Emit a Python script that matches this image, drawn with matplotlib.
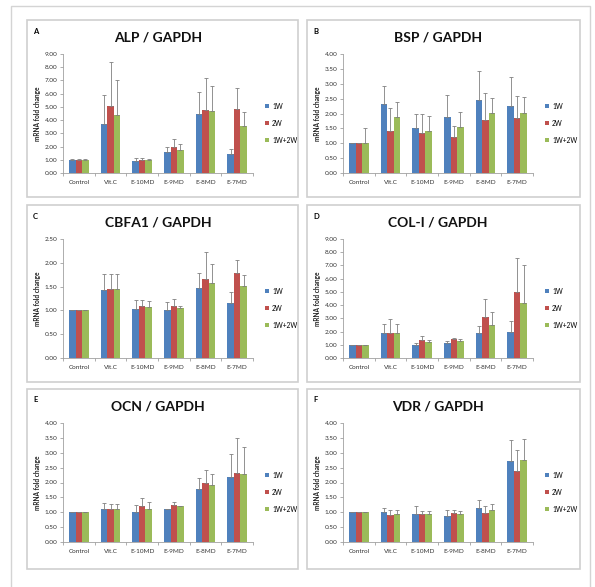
import numpy as np
import matplotlib.pyplot as plt
from matplotlib.patches import Rectangle

plt.rcParams['font.family'] = ['Lato', 'DejaVu Sans']

W, H = 595, 587

categories = ['Control', 'Vit.C', 'E-10MD', 'E-9MD', 'E-8MD', 'E-7MD']
series_names = ['1W', '2W', '1W+2W']
colors = ['#4F81BD', '#C0504D', '#9BBB59']

# ALP / GAPDH
alp_1w = [1.0, 3.7, 0.9, 1.57, 4.45, 1.45]
alp_2w = [1.0, 5.08, 0.95, 1.95, 4.75, 4.82]
alp_12w = [1.0, 4.37, 0.95, 1.73, 4.7, 3.55]
alp_err_1w = [0.03, 2.2, 0.2, 0.43, 1.7, 0.4]
alp_err_2w = [0.03, 3.35, 0.2, 0.6, 2.45, 1.63]
alp_err_12w = [0.03, 2.68, 0.1, 0.47, 1.9, 1.05]

# BSP / GAPDH
bsp_1w = [1.0, 2.33, 1.51, 1.88, 2.47, 2.24]
bsp_2w = [1.0, 1.40, 1.33, 1.22, 1.78, 1.86]
bsp_12w = [1.0, 1.88, 1.40, 1.56, 2.01, 2.02]
bsp_err_1w = [0.02, 0.6, 0.47, 0.74, 0.95, 1.0]
bsp_err_2w = [0.02, 0.78, 0.65, 0.36, 0.92, 0.74]
bsp_err_12w = [0.5, 0.5, 0.52, 0.49, 0.51, 0.53]

# CBFA1 / GAPDH
cbfa_1w = [1.0, 1.42, 1.03, 1.0, 1.48, 1.16]
cbfa_2w = [1.0, 1.44, 1.10, 1.10, 1.65, 1.78]
cbfa_12w = [1.0, 1.44, 1.08, 1.05, 1.57, 1.52]
cbfa_err_1w = [0.01, 0.35, 0.19, 0.17, 0.3, 0.22]
cbfa_err_2w = [0.01, 0.32, 0.12, 0.14, 0.57, 0.28]
cbfa_err_12w = [0.01, 0.32, 0.12, 0.05, 0.4, 0.23]

# COL-I / GAPDH
col_1w = [1.0, 1.9, 0.95, 1.15, 1.9, 1.95]
col_2w = [1.0, 1.9, 1.35, 1.4, 3.1, 5.0]
col_12w = [1.0, 1.9, 1.2, 1.3, 2.5, 4.15]
col_err_1w = [0.02, 0.65, 0.15, 0.1, 0.5, 0.85]
col_err_2w = [0.02, 1.05, 0.3, 0.15, 1.4, 2.6]
col_err_12w = [0.02, 0.65, 0.15, 0.15, 0.95, 2.9]

# OCN / GAPDH
ocn_1w = [1.0, 1.1, 1.0, 1.1, 1.78, 2.2]
ocn_2w = [1.0, 1.1, 1.2, 1.25, 2.0, 2.33]
ocn_12w = [1.0, 1.1, 1.1, 1.2, 1.9, 2.27]
ocn_err_1w = [0.01, 0.2, 0.25, 0.02, 0.37, 0.75]
ocn_err_2w = [0.01, 0.18, 0.27, 0.1, 0.42, 1.15]
ocn_err_12w = [0.01, 0.18, 0.23, 0.02, 0.38, 0.93]

# VDR / GAPDH
vdr_1w = [1.0, 1.0, 0.95, 0.87, 1.15, 2.72]
vdr_2w = [1.0, 0.92, 0.93, 0.98, 0.97, 2.37]
vdr_12w = [1.0, 0.95, 0.95, 0.93, 1.08, 2.75]
vdr_err_1w = [0.01, 0.15, 0.27, 0.21, 0.25, 0.7]
vdr_err_2w = [0.01, 0.15, 0.1, 0.1, 0.23, 0.71]
vdr_err_12w = [0.01, 0.13, 0.1, 0.1, 0.2, 0.7]

panels = [
    ('A', 'ALP / GAPDH', [alp_1w, alp_2w, alp_12w], [alp_err_1w, alp_err_2w, alp_err_12w], 9, 1.0),
    ('B', 'BSP / GAPDH', [bsp_1w, bsp_2w, bsp_12w], [bsp_err_1w, bsp_err_2w, bsp_err_12w], 4, 0.5),
    ('C', 'CBFA1 / GAPDH', [cbfa_1w, cbfa_2w, cbfa_12w], [cbfa_err_1w, cbfa_err_2w, cbfa_err_12w], 2.5, 0.5),
    ('D', 'COL-I / GAPDH', [col_1w, col_2w, col_12w], [col_err_1w, col_err_2w, col_err_12w], 9, 1.0),
    ('E', 'OCN / GAPDH', [ocn_1w, ocn_2w, ocn_12w], [ocn_err_1w, ocn_err_2w, ocn_err_12w], 4, 0.5),
    ('F', 'VDR / GAPDH', [vdr_1w, vdr_2w, vdr_12w], [vdr_err_1w, vdr_err_2w, vdr_err_12w], 4, 0.5),
]

# panel boxes in pixels (left, top, right, bottom)
boxes = [(27, 20, 298, 197), (307, 20, 580, 197),
         (27, 205, 298, 382), (307, 205, 580, 382),
         (27, 389, 298, 569), (307, 389, 580, 569)]

fig = plt.figure(figsize=(W / 100, H / 100), dpi=100)
fig.patch.set_facecolor('white')


def px_rect(l, t, r, b):
    return [l / W, 1 - b / H, (r - l) / W, (b - t) / H]


# outer frame
fig.add_artist(Rectangle((11 / W, -0.01), (590 - 11) / W, 1 - 6 / H + 0.01, transform=fig.transFigure,
                         fill=False, edgecolor='#d4d4d4', linewidth=1.0))

x = np.arange(len(categories))
bw = 0.21

for (letter, title, vals, errs, ymax, step), (l, t, r, b) in zip(panels, boxes):
    fig.add_artist(Rectangle((l / W, 1 - b / H), (r - l) / W, (b - t) / H, transform=fig.transFigure,
                             fill=False, edgecolor='#cfcfcf', linewidth=1.2))
    ax = fig.add_axes(px_rect(l + 36, t + 34, l + 226, t + 153))
    for i, (v, e) in enumerate(zip(vals, errs)):
        pos = x + (i - 1) * bw
        ax.bar(pos, v, bw, color=colors[i], label=series_names[i], zorder=2)
        ax.errorbar(pos, v, yerr=[np.zeros(len(e)), e], fmt='none', ecolor='#808080',
                    elinewidth=0.6, capsize=1.2, capthick=0.6, zorder=3)
    ax.set_xlim(-0.5, len(categories) - 0.5)
    ax.set_ylim(0, ymax)
    ax.set_yticks(np.arange(0, ymax + step / 2, step))
    ax.set_yticklabels([f'{v:.2f}' for v in np.arange(0, ymax + step / 2, step)])
    ax.set_xticks(x)
    ax.set_xticklabels(categories)
    ax.set_xticks(np.arange(-0.5, len(categories)), minor=True)
    ax.tick_params(axis='x', which='major', length=0, labelsize=4.6, pad=5, colors='#333333')
    ax.tick_params(axis='x', which='minor', length=2, color='#a0a0a0', width=0.6)
    ax.tick_params(axis='y', length=2, width=0.6, labelsize=4.6, pad=2, colors='#a0a0a0', labelcolor='#333333')
    for s in ['top', 'right']:
        ax.spines[s].set_visible(False)
    for s in ['left', 'bottom']:
        ax.spines[s].set_color('#a0a0a0')
        ax.spines[s].set_linewidth(0.6)
    ax.set_ylabel('mRNA fold change', fontsize=4.7, fontweight='bold', labelpad=3, color='#222222')
    ax.set_title(title, fontsize=10, fontweight='bold', pad=9, color='#111111')
    fig.text((l + 6) / W, 1 - (t + 11) / H, letter, fontsize=5.5, fontweight='bold', va='center')
    ax.legend(loc='center left', bbox_to_anchor=(1.03, 0.42), frameon=False, fontsize=4.8,
              handlelength=0.6, handleheight=0.6, handletextpad=0.5, labelspacing=1.5)

fig.savefig('out.png', dpi=100)
